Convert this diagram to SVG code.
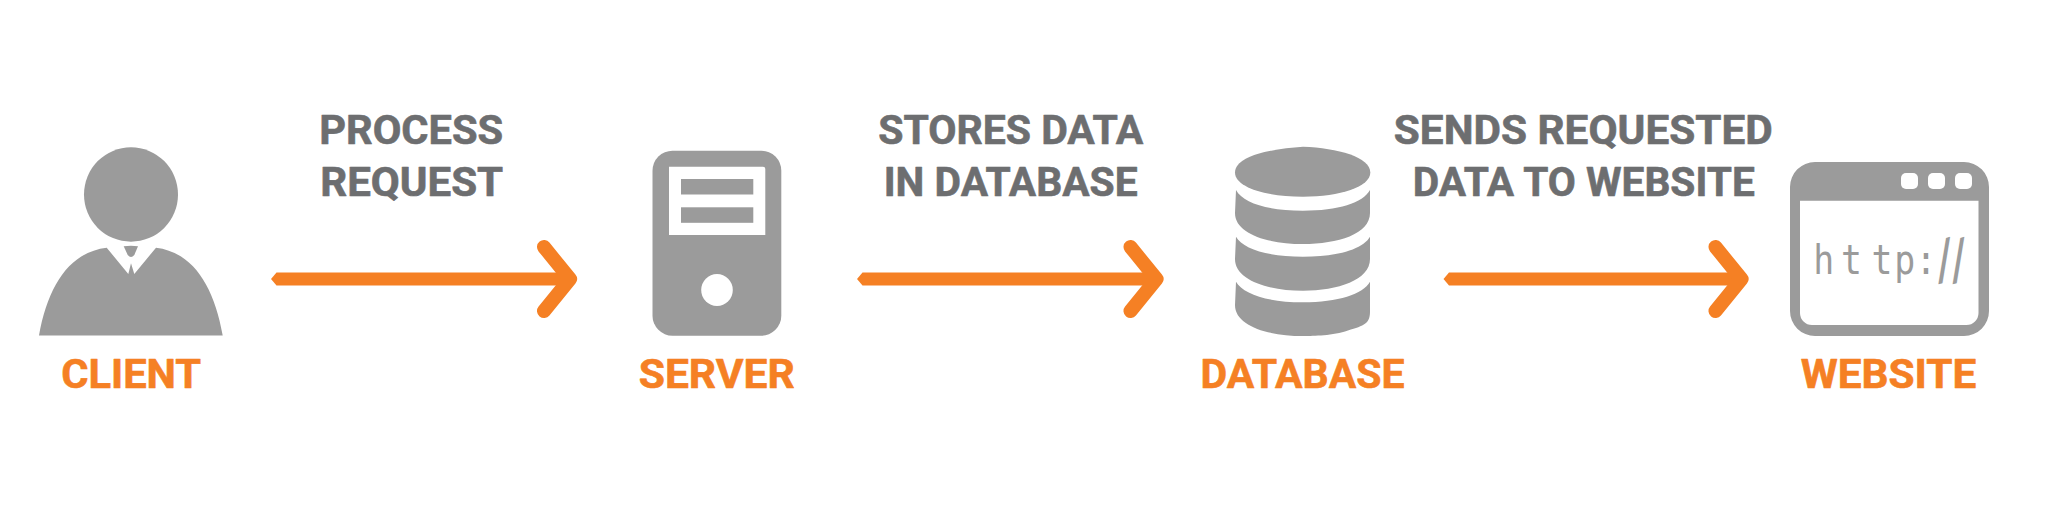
<svg xmlns="http://www.w3.org/2000/svg" width="2045" height="532" viewBox="0 0 2045 532">
<style>
.g{fill:#9b9b9b}
.w{fill:#fff}
.lab{font-family:Roboto,"Liberation Sans",sans-serif;font-weight:700;font-size:40.500px;text-anchor:middle;stroke-width:.6;stroke-linejoin:round}
.t{fill:#6d6e70;stroke:#6d6e70}
.o{fill:#f58024;stroke:#f58024}
.shaft{fill:#f58024}
.head{fill:none;stroke:#f58024;stroke-width:14;stroke-linecap:round;stroke-linejoin:round}
</style>
<rect width="2045" height="532" fill="#fff"/>
<g id="client">
<ellipse class="g" cx="131" cy="194.500" rx="47" ry="47.200"/>
<path class="g" d="M39 335.500C48 285 70 252 106.700 247.700L128.300 274L131 263.300L134.300 274L156 247.700C192 252 214 285 222.700 335.500Z"/>
<path class="g" d="M123.700 246.300Q131 245.300 138 246.300L134.300 255Q131 259 127.700 255Z"/>
<text class="lab o" x="131.200" y="388" textLength="140" lengthAdjust="spacingAndGlyphs">CLIENT</text>
</g>
<g id="server">
<rect class="g" x="652.500" y="150.700" width="128.800" height="185" rx="20"/>
<path class="w" d="M669 166.700H763Q765.300 166.700 765.300 169V235H669Z"/>
<rect class="g" x="681" y="179" width="72.300" height="15.500"/>
<rect class="g" x="681" y="207.300" width="72.300" height="15.500"/>
<ellipse class="w" cx="717" cy="290" rx="15.800" ry="16"/>
<text class="lab o" x="716.700" y="388" textLength="156" lengthAdjust="spacingAndGlyphs">SERVER</text>
</g>
<g id="database">
<path class="g" d="M1235 172.500C1235 156 1270 149 1303 146.700C1338 148 1370.300 157 1370.300 172.500C1370.300 187 1340 196.700 1303 196.700C1265 196.700 1235 187 1235 172.500Z"/>
<path class="g" d="M1236 190C1243 203 1268 210.700 1303 210.700C1338 210.700 1363 203 1370 190V213C1370 234 1338 244 1303 244C1268 244 1235 234 1235 213Z"/>
<path class="g" d="M1236 236.700C1243 249 1268 256.700 1303 256.700C1338 256.700 1363 249 1370 236.700V259C1370 280 1338 290.700 1303 290.700C1268 290.700 1235 280 1235 259Z"/>
<path class="g" d="M1236 281.700C1243 294 1268 302.300 1303 302.300C1338 302.300 1363 294 1370 281.700V312C1370 325 1362 326 1345 331.500C1330 336 1310 336 1303 336C1268 336 1235 326 1235 305Z"/>
<text class="lab o" x="1302.500" y="388" textLength="204" lengthAdjust="spacingAndGlyphs">DATABASE</text>
</g>
<g id="website">
<path class="g" fill-rule="evenodd" d="M1815 162H1964A25 25 0 0 1 1989 187V311A25 25 0 0 1 1964 336H1815A25 25 0 0 1 1790 311V187A25 25 0 0 1 1815 162ZM1800 200.700V313A12 12 0 0 0 1812 325H1966.500A12 12 0 0 0 1978.500 313V200.700Z"/>
<rect class="w" x="1901" y="173" width="17" height="16" rx="5"/>
<rect class="w" x="1928" y="173" width="17" height="16" rx="5"/>
<rect class="w" x="1955" y="173" width="17" height="16" rx="5"/>
<text class="g" transform="translate(1800 0) scale(.85 1)" font-family="DejaVu Sans Mono,monospace" font-size="41" y="274.300" x="15.500 48.200 84.200 110.900 136 159 176" rotate="0 0 0 0 0 -14 -14">http:<tspan font-size="52" dy="6">//</tspan></text>
<text class="lab o" x="1888.500" y="388" textLength="175.500" lengthAdjust="spacingAndGlyphs">WEBSITE</text>
</g>
<g id="connectors">
<path class="shaft" d="M271 279L276.500 272.600H566V285.400H276.500Z"/>
<path class="head" d="M544 247L570 279L544 311"/>
<path class="shaft" d="M857 279L862.500 272.600H1152.500V285.400H862.500Z"/>
<path class="head" d="M1130.500 247L1156.500 279L1130.500 311"/>
<path class="shaft" d="M1443.500 279L1449 272.600H1737.500V285.400H1449Z"/>
<path class="head" d="M1715.500 247L1741.500 279L1715.500 311"/>
</g>
<g id="labels">
<text class="lab t" x="411.200" y="144" textLength="184" lengthAdjust="spacingAndGlyphs">PROCESS</text>
<text class="lab t" x="411.700" y="196" textLength="183" lengthAdjust="spacingAndGlyphs">REQUEST</text>
<text class="lab t" x="1010.700" y="144" textLength="265" lengthAdjust="spacingAndGlyphs">STORES DATA</text>
<text class="lab t" x="1010.700" y="196" textLength="254" lengthAdjust="spacingAndGlyphs">IN DATABASE</text>
<text class="lab t" x="1583.300" y="144" textLength="379" lengthAdjust="spacingAndGlyphs">SENDS REQUESTED</text>
<text class="lab t" x="1583.800" y="196" textLength="342" lengthAdjust="spacingAndGlyphs">DATA TO WEBSITE</text>
</g>
</svg>
